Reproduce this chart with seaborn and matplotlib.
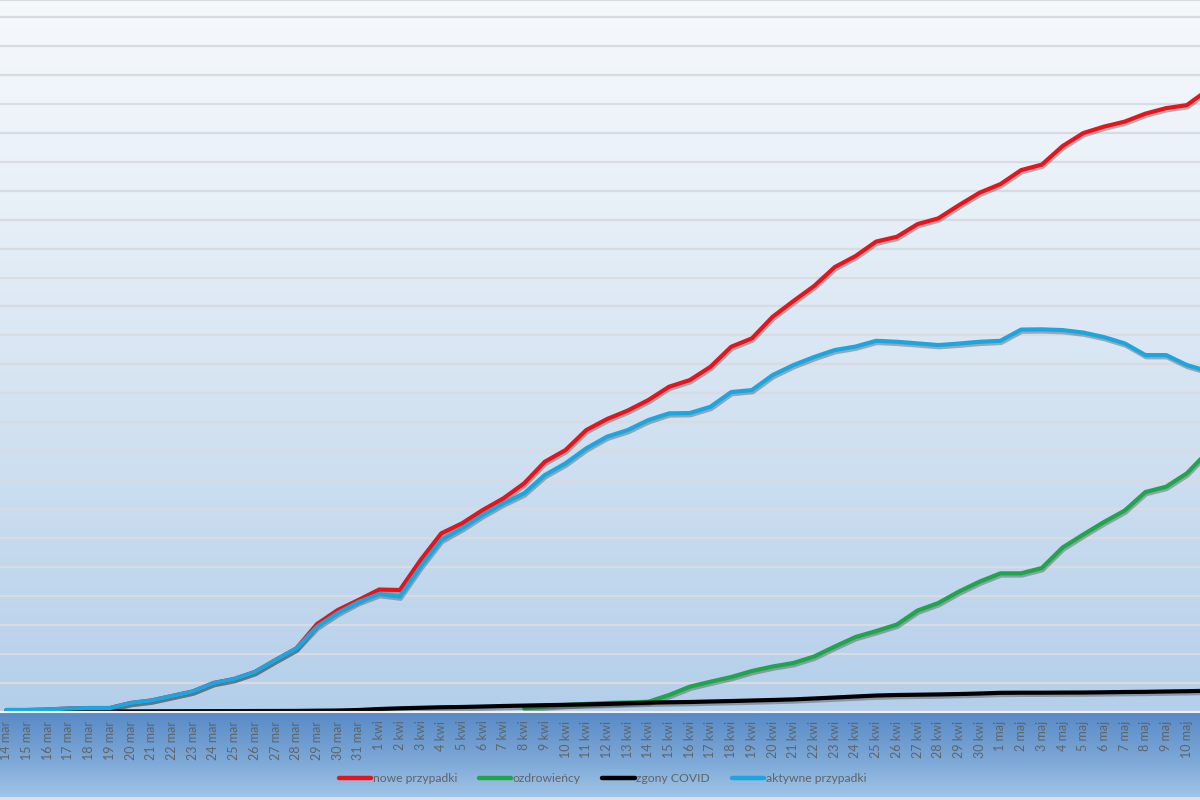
import numpy as np
import pandas as pd
import matplotlib
matplotlib.use("Agg")
import matplotlib.pyplot as plt
import matplotlib.patheffects as pe
from matplotlib.lines import Line2D
import seaborn as sns

# ---------------- data ----------------
dates = (
    [f"{d} mar" for d in range(14, 32)]
    + [f"{d} kwi" for d in range(1, 31)]
    + [f"{d} maj" for d in range(1, 12)]
)

nowe_przypadki = [
    26, 26, 35, 52, 60, 60, 147, 190, 268, 346, 492, 562, 683, 890, 1089,
    1512, 1754, 1927, 2108, 2100, 2618, 3079, 3252, 3482, 3684, 3943, 4317,
    4519, 4864, 5054, 5201, 5383, 5613, 5728, 5958, 6304, 6449, 6822, 7093,
    7353, 7681, 7871, 8122, 8205, 8424, 8523, 8752, 8968, 9115, 9357, 9452,
    9772, 9997, 10109, 10195, 10333, 10428, 10480, 10739,
]

ozdrowiency = [None] * 25 + [
    60, 86, 112, 130, 147, 156, 169, 285, 429, 515, 596, 700, 778, 838,
    950, 1123, 1287, 1391, 1503, 1745, 1875, 2074, 2246, 2388, 2388, 2480,
    2834, 3059, 3275, 3473, 3793, 3885, 4116, 4484,
]

zgony = [
    0, 0, 0, 0, 1, 1, 2, 3, 4, 5, 6, 7, 8, 9, 10,
    14, 17, 26, 43, 55, 64, 73, 78, 86, 95, 102, 109, 116, 123, 130, 142,
    152, 159, 164, 173, 181, 190, 199, 209, 225, 242, 259, 276, 285, 290,
    295, 302, 311, 323, 325, 325, 327, 328, 332, 337, 340, 346, 351, 358,
]

aktywne = [
    26, 26, 35, 52, 60, 60, 147, 190, 268, 346, 492, 562, 683, 890, 1089,
    1465, 1702, 1892, 2030, 1987, 2502, 2964, 3166, 3396, 3598, 3771, 4087,
    4289, 4548, 4749, 4864, 5037, 5153, 5158, 5267, 5521, 5555, 5814, 5987,
    6126, 6247, 6307, 6407, 6390, 6362, 6333, 6359, 6390, 6407, 6601, 6605,
    6592, 6549, 6471, 6362, 6160, 6160, 5988, 5884,
]

series_names = ["nowe przypadki", "ozdrowieńcy", "zgony COVID", "aktywne przypadki"]
series_values = [nowe_przypadki, ozdrowiency, zgony, aktywne]
colors = ["#e8141c", "#1fa64b", "#000000", "#1aa7e1"]

rows = []
for name, vals in zip(series_names, series_values):
    for i, v in enumerate(vals):
        if v is not None:
            rows.append({"idx": i, "value": v, "series": name})
df = pd.DataFrame(rows)

# ---------------- figure ----------------
sns.set_theme(style="white")
plt.rcParams["font.family"] = ["Lato", "DejaVu Sans"]

W, H = 1200, 800
fig = plt.figure(figsize=(W / 100, H / 100), dpi=100)

# background gradient (figure level)
stops = [
    (0, (246, 249, 252)),
    (200, (232, 240, 248)),
    (400, (212, 227, 242)),
    (711, (180, 207, 234)),
    (712, (88, 138, 198)),
    (760, (125, 168, 215)),
    (796, (160, 196, 230)),
    (797, (222, 226, 232)),
    (800, (222, 226, 232)),
]
ys = np.arange(H)
sy = [s[0] for s in stops]
grad = np.zeros((H, 1, 3))
for c in range(3):
    grad[:, 0, c] = np.interp(ys, sy, [s[1][c] for s in stops]) / 255.0
bg = fig.add_axes([0, 0, 1, 1], zorder=-5)
bg.imshow(grad, aspect="auto", extent=[0, 1, 0, 1], origin="upper")
bg.axis("off")

axis_px = 711.5
grid_px = 28.93
step = 500
ax = fig.add_axes([0, (H - axis_px) / H, 1, axis_px / H])
ax.set_facecolor("none")

sns.lineplot(
    data=df, x="idx", y="value", hue="series", hue_order=series_names,
    palette=dict(zip(series_names, colors)), linewidth=3.0, ax=ax,
    legend=False, estimator=None, sort=False,
)
for ln in ax.lines:
    ln.set_solid_capstyle("round")
    ln.set_path_effects([
        pe.SimpleLineShadow(offset=(0.6, -1.6), shadow_color="#303030", alpha=0.35),
        pe.Normal(),
    ])

ax.set_yticks(np.arange(0, 12001, step))
ax.yaxis.grid(True, color="#d8dbe2", linewidth=1.6)
ax.set_axisbelow(True)
ax.tick_params(axis="y", left=False, labelleft=False)

ax.set_xticks(range(len(dates)))
ax.set_xticklabels(dates, rotation=90, fontsize=9, color="#5f6468")
ax.set_xticks(np.arange(-0.5, len(dates), 1), minor=True)
ax.tick_params(axis="x", which="major", length=0, pad=6.5)
ax.tick_params(axis="x", which="minor", length=3, width=1.2, color="#f2f5fa",
               direction="out")
ax.set_xlabel("")
ax.set_ylabel("")

# scales (after ticks, which may expand the view)
x0 = -6.35 / 20.71
x1 = (W - 6.35) / 20.71
ax.set_xlim(x0, x1)
ax.set_ylim(0, axis_px / grid_px * step)

for s in ["left", "right"]:
    ax.spines[s].set_visible(False)
ax.spines["top"].set_color("#d8dbe2")
ax.spines["top"].set_linewidth(1.5)
ax.spines["bottom"].set_color("#eef2f8")
ax.spines["bottom"].set_linewidth(1.5)

# legend
handles = [Line2D([0], [0], color=c, lw=3.2) for c in colors]
leg = fig.legend(
    handles, series_names, loc="center", bbox_to_anchor=(0.502, 0.027),
    ncol=4, frameon=False, fontsize=8.7, handlelength=2.7, handletextpad=0.1,
    columnspacing=1.8,
)
for t in leg.get_texts():
    t.set_color("#5f6468")

fig.savefig("out.png", dpi=100)
